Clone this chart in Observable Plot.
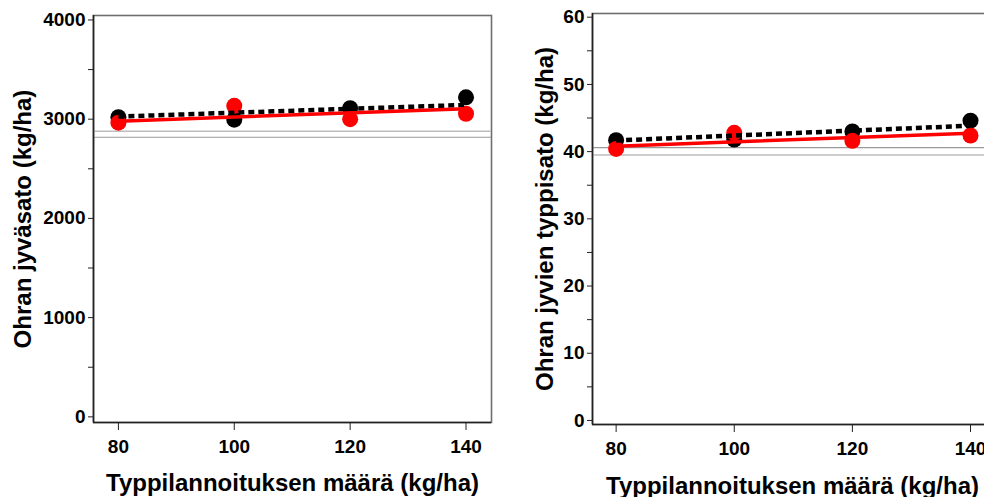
<!DOCTYPE html>
<html>
<head>
<meta charset="utf-8">
<script src="https://cdn.jsdelivr.net/npm/d3@7"></script>
<script src="https://cdn.jsdelivr.net/npm/@observablehq/plot@0.6"></script>
<style>
  html, body { margin: 0; padding: 0; background: #fff; }
  #wrap { position: relative; width: 984px; height: 497px; overflow: hidden; background: #fff; }
  #left { position: absolute; left: 0; top: 0; width: 500px; }
  #right { position: absolute; left: 500px; top: 0; width: 506px; }
  svg { max-width: none !important; }
</style>
</head>
<body>
<div id="wrap"><div id="left"></div><div id="right"></div></div>
<script>
// ---- data ----
const nRates = [80, 100, 120, 140];
const fitRates = [80, 140];
const xTicks = [80, 100, 120, 140];

// left: grain yield (kg/ha)
const yieldBlack = [3020, 2995, 3110, 3220];
const yieldRed = [2965, 3135, 3000, 3055];
const yieldFitBlack = [3026, 3144];
const yieldFitRed = [2980, 3104];
const yieldRef = [2878, 2818];
const yieldTicks = [0, 1000, 2000, 3000, 4000];
const yieldMinor = [500, 1500, 2500, 3500];

// right: grain nitrogen yield (kg/ha)
const nBlack = [41.7, 41.8, 43.0, 44.6];
const nRed = [40.4, 42.8, 41.6, 42.4];
const nFitBlack = [41.65, 43.85];
const nFitRed = [40.8, 42.75];
const nRef = [40.6, 39.5];
const nTicks = [0, 10, 20, 30, 40, 50, 60];
const nMinor = [5, 15, 25, 35, 45, 55];

const xTitle = "Typpilannoituksen määrä (kg/ha)";
const yTitleLeft = "Ohran jyväsato (kg/ha)";
const yTitleRight = "Ohran jyvien typpisato (kg/ha)";

const FONT = "'Liberation Sans', Arial, Helvetica, sans-serif";
const TICK_FS = 19;
const TITLE_FS = 24;

function panel(o) {
  const pts = (vals) => nRates.map((x, i) => ({x, y: vals[i]}));
  const fit = (vals) => fitRates.map((x, i) => ({x, y: vals[i]}));
  return Plot.plot({
    width: o.width,
    height: 497,
    marginLeft: o.ml,
    marginRight: o.mr,
    marginTop: o.mt,
    marginBottom: o.mb,
    style: {fontFamily: FONT, fontSize: TICK_FS + "px", fontWeight: "bold", background: "#fff", color: "#000", overflow: "visible", maxWidth: "none"},
    x: {domain: o.xdom},
    y: {domain: o.ydom},
    marks: [
      Plot.frame({stroke: "#6e6e6e", strokeWidth: 1.6}),
      Plot.ruleY([o.ref[0]], {stroke: o.refColors[0], strokeWidth: o.refWidths[0]}),
      Plot.ruleY([o.ref[1]], {stroke: o.refColors[1], strokeWidth: o.refWidths[1]}),
      Plot.ruleX([o.xdom[0]], {stroke: "#222", strokeWidth: 1.6}),
      Plot.ruleY([o.ydom[0]], {stroke: "#222", strokeWidth: 1.6}),
      Plot.axisY({ticks: o.yTicks, tickSize: 5, tickPadding: 3, label: null, stroke: "#222", fill: "#000", fontSize: TICK_FS, fontWeight: "bold", tickFormat: d => String(d)}),
      Plot.axisY({ticks: o.yMinor, tickSize: 5, label: null, stroke: "#222", tickFormat: () => ""}),
      Plot.axisX({ticks: xTicks, tickSize: 8, tickPadding: 9, label: null, stroke: "#222", fill: "#000", fontSize: TICK_FS, fontWeight: "bold", tickFormat: d => String(d)}),
      Plot.dot(pts(o.black), {x: "x", y: "y", r: 8, fill: "#000"}),
      Plot.dot(pts(o.red), {x: "x", y: "y", r: 8, fill: "#ff0000"}),
      Plot.line(fit(o.fitBlack), {x: "x", y: "y", stroke: "#000", strokeWidth: 4.5, strokeDasharray: "6,4", strokeLinecap: "butt"}),
      Plot.line(fit(o.fitRed), {x: "x", y: "y", stroke: "#ff0000", strokeWidth: 3.5}),
      Plot.text([o.yTitle], {frameAnchor: "left", dx: o.ytDx, rotate: -90, textAnchor: "middle", lineAnchor: "middle", fontSize: TITLE_FS, fontWeight: "bold", fill: "#000"}),
      Plot.text([xTitle], {frameAnchor: "bottom", dx: o.xtDx, dy: o.xtDy, textAnchor: "middle", lineAnchor: "middle", fontSize: TITLE_FS, fontWeight: "bold", fill: "#000"})
    ]
  });
}

document.getElementById("left").append(panel({
  width: 500, ml: 93, mr: 9, mt: 15, mb: 75,
  xdom: [75.7, 144.4], ydom: [-57, 4045],
  yTicks: yieldTicks, yMinor: yieldMinor,
  black: yieldBlack, red: yieldRed, fitBlack: yieldFitBlack, fitRed: yieldFitRed,
  ref: yieldRef, refColors: ["#bdbdbd", "#9a9a9a"], refWidths: [1.6, 1.2],
  yTitle: yTitleLeft, ytDx: -70, xtDx: 0, xtDy: 61
}));

document.getElementById("right").append(panel({
  width: 506, ml: 92, mr: 10, mt: 13, mb: 73,
  xdom: [76, 144.4], ydom: [-0.6, 60.55],
  yTicks: nTicks, yMinor: nMinor,
  black: nBlack, red: nRed, fitBlack: nFitBlack, fitRed: nFitRed,
  ref: nRef, refColors: ["#9a9a9a", "#bdbdbd"], refWidths: [1.2, 1.6],
  yTitle: yTitleRight, ytDx: -47, xtDx: -2, xtDy: 62
}));
</script>
</body>
</html>
